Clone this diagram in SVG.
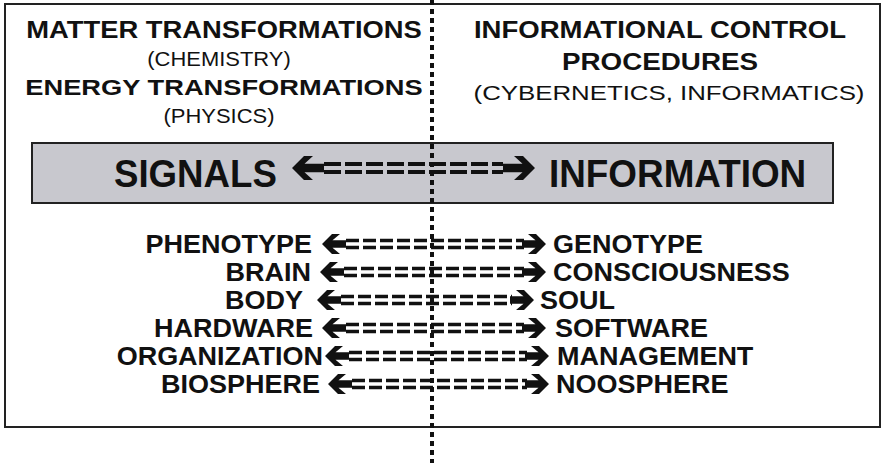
<svg xmlns="http://www.w3.org/2000/svg" width="883" height="463" viewBox="0 0 883 463">
  <style>
    .b { font-family: "Liberation Sans", Arial, sans-serif; font-weight: bold; fill: #111; }
    .r { font-family: "Liberation Sans", Arial, sans-serif; font-weight: normal; fill: #111; }
    .h { font-size: 23px; }
    .p { font-size: 21px; }
    .row { font-size: 25px; }
    .big { font-size: 39px; }
    .dash { stroke: #111; stroke-width: 3.4; fill: none; stroke-dasharray: 13 4; }
    .dashBig { stroke: #111; stroke-width: 3.8; fill: none; stroke-dasharray: 17 4; }
    .head { fill: #111; }
  </style>
  <defs>
    <!-- bold chevron arrowheads, tip at origin -->
    <path id="hr" d="M0,0 L-10,-10 L-18,-10 L-10.5,-3.7 L-24,-3.7 L-24,3.7 L-10.5,3.7 L-18,10 L-10,10 Z"/>
    <path id="hl" d="M0,0 L10,-10 L18,-10 L10.5,-3.7 L24,-3.7 L24,3.7 L10.5,3.7 L18,10 L10,10 Z"/>
    <path id="hrBig" d="M0,0 L-12,-12 L-21,-12 L-12.5,-4.2 L-32,-4.2 L-32,4.2 L-12.5,4.2 L-21,12 L-12,12 Z"/>
    <path id="hlBig" d="M0,0 L12,-12 L21,-12 L12.5,-4.2 L32,-4.2 L32,4.2 L12.5,4.2 L21,12 L12,12 Z"/>
  </defs>

  <rect width="883" height="463" fill="#ffffff"/>

  <!-- outer frame -->
  <rect id="frame" x="5" y="4" width="875" height="423" fill="none" stroke="#222" stroke-width="2"/>

  <!-- left heading -->
  <g id="matter-energy">
    <text class="b h" transform="translate(224,38) scale(1.19,1)" text-anchor="middle">MATTER TRANSFORMATIONS</text>
    <text class="r p" transform="translate(219,66) scale(1.045,1)" text-anchor="middle">(CHEMISTRY)</text>
    <text class="b h" transform="translate(224,95) scale(1.186,1)" text-anchor="middle">ENERGY TRANSFORMATIONS</text>
    <text class="r p" transform="translate(219,123) scale(1.045,1)" text-anchor="middle">(PHYSICS)</text>
  </g>

  <!-- right heading -->
  <g id="informational">
    <text class="b h" transform="translate(660,38) scale(1.198,1)" text-anchor="middle">INFORMATIONAL CONTROL</text>
    <text class="b h" transform="translate(660,70) scale(1.208,1)" text-anchor="middle">PROCEDURES</text>
    <text class="r p" transform="translate(669,100) scale(1.23,1)" text-anchor="middle">(CYBERNETICS, INFORMATICS)</text>
  </g>

  <!-- signals / information band -->
  <g id="band">
    <rect x="32" y="143" width="801" height="60" fill="#c8c8ce" stroke="#222" stroke-width="2"/>
    <text class="b big" transform="translate(114,187) scale(0.94,1)">SIGNALS</text>
    <text class="b big" transform="translate(549,187) scale(0.945,1)">INFORMATION</text>
  </g>

  <!-- pair labels -->
  <g id="phenotype"><text class="b row" transform="translate(312,253) scale(1.08,1)" text-anchor="end">PHENOTYPE</text></g>
  <g id="genotype"><text class="b row" transform="translate(553,253) scale(1.08,1)">GENOTYPE</text></g>
  <g id="brain"><text class="b row" transform="translate(311,281) scale(1.08,1)" text-anchor="end">BRAIN</text></g>
  <g id="consciousness"><text class="b row" transform="translate(553,281) scale(1.08,1)">CONSCIOUSNESS</text></g>
  <g id="body"><text class="b row" transform="translate(303,309) scale(1.08,1)" text-anchor="end">BODY</text></g>
  <g id="soul"><text class="b row" transform="translate(540,309) scale(1.08,1)">SOUL</text></g>
  <g id="hardware"><text class="b row" transform="translate(313,337) scale(1.08,1)" text-anchor="end">HARDWARE</text></g>
  <g id="software"><text class="b row" transform="translate(555,337) scale(1.08,1)">SOFTWARE</text></g>
  <g id="organization"><text class="b row" transform="translate(323,365) scale(1.08,1)" text-anchor="end">ORGANIZATION</text></g>
  <g id="management"><text class="b row" transform="translate(557,365) scale(1.08,1)">MANAGEMENT</text></g>
  <g id="biosphere"><text class="b row" transform="translate(320,393) scale(1.08,1)" text-anchor="end">BIOSPHERE</text></g>
  <g id="noosphere"><text class="b row" transform="translate(556,393) scale(1.08,1)">NOOSPHERE</text></g>

  <!-- two-way connectors -->
  <g id="connectors">
    <!-- band arrow -->
    <path class="dashBig" d="M324,164 H503 M324,172 H503"/>
    <use href="#hlBig" class="head" x="292" y="168"/>
    <use href="#hrBig" class="head" x="535" y="168"/>

    <path class="dash" d="M346,240.5 H524 M346,247.5 H524"/>
    <use href="#hl" class="head" x="322" y="244"/>
    <use href="#hr" class="head" x="546" y="244"/>

    <path class="dash" d="M344,268.5 H524 M344,275.5 H524"/>
    <use href="#hl" class="head" x="320" y="272"/>
    <use href="#hr" class="head" x="546" y="272"/>

    <path class="dash" d="M341,296.5 H512 M341,303.5 H512"/>
    <use href="#hl" class="head" x="317" y="300"/>
    <use href="#hr" class="head" x="534" y="300"/>

    <path class="dash" d="M346,324.5 H524 M346,331.5 H524"/>
    <use href="#hl" class="head" x="322" y="328"/>
    <use href="#hr" class="head" x="546" y="328"/>

    <path class="dash" d="M349,352.5 H527 M349,359.5 H527"/>
    <use href="#hl" class="head" x="325" y="356"/>
    <use href="#hr" class="head" x="549" y="356"/>

    <path class="dash" d="M352,380.5 H527 M352,387.5 H527"/>
    <use href="#hl" class="head" x="328" y="384"/>
    <use href="#hr" class="head" x="549" y="384"/>
  </g>

  <!-- dotted divider -->
  <line id="divider" x1="432" y1="0" x2="432" y2="463" stroke="#111" stroke-width="4" stroke-dasharray="5 4"/>
</svg>
